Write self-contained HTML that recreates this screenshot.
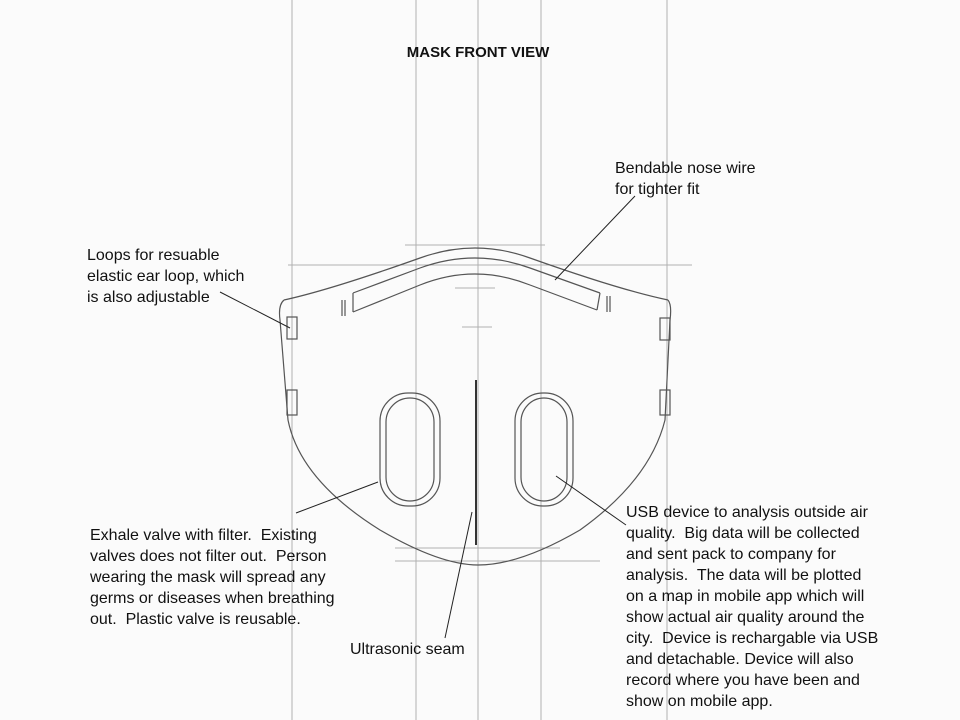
<!DOCTYPE html>
<html><head><style>
html,body{margin:0;padding:0;background:#fbfbfb;}
svg{display:block}
text{font-family:"Liberation Sans",Arial,sans-serif;font-size:16px;fill:#111;white-space:pre}
</style></head><body>
<svg width="960" height="720" viewBox="0 0 960 720">
<rect width="960" height="720" fill="#fbfbfb"/>
<g stroke="#b0b0b0" stroke-width="1" fill="none">
<line x1="292" y1="0" x2="292" y2="720"/>
<line x1="416" y1="0" x2="416" y2="720"/>
<line x1="478" y1="0" x2="478" y2="720"/>
<line x1="541" y1="0" x2="541" y2="720"/>
<line x1="667" y1="0" x2="667" y2="720"/>
<line x1="288" y1="265" x2="692" y2="265"/>
<line x1="405" y1="245" x2="545" y2="245"/>
<line x1="395" y1="548" x2="560" y2="548"/>
<line x1="395" y1="561" x2="600" y2="561"/>
<line x1="455" y1="288" x2="495" y2="288"/>
<line x1="462" y1="327" x2="492" y2="327"/>
</g>
<g stroke="#555" stroke-width="1.2" fill="none">
<path d="M284,300 Q330,290 420,258 Q475,238 530,258 Q620,290 668,300"/>
<path d="M284,300 Q278,305 280,320 L288,420 Q300,480 380,530 Q440,565 478,565 Q520,565 580,530 Q650,480 665,420 L670,320 Q672,305 668,300"/>
<path d="M353,293 L420,268 Q475,248 530,268 L600,293"/>
<path d="M353,312 L420,285 Q475,263 530,285 L597,310"/>
<line x1="353" y1="293" x2="353" y2="312"/><line x1="600" y1="293" x2="597" y2="310"/>
<path d="M345,300 v16 M342,300 v16 M607,296 v16 M610,296 v16"/>
<rect x="287" y="317" width="10" height="22"/><rect x="287" y="390" width="10" height="25"/>
<rect x="660" y="318" width="10" height="22"/><rect x="660" y="390" width="10" height="25"/>
<rect x="380" y="393" width="60" height="113" rx="28"/>
<rect x="386" y="398" width="48" height="103" rx="24"/>
<rect x="515" y="393" width="58" height="113" rx="28"/>
<rect x="521" y="398" width="46" height="103" rx="24"/>
<line x1="476" y1="380" x2="476" y2="545" stroke="#333" stroke-width="2"/>
</g>
<g stroke="#222" stroke-width="1">
<line x1="220" y1="292" x2="290" y2="328"/>
<line x1="635" y1="196" x2="555" y2="280"/>
<line x1="296" y1="513" x2="378" y2="482"/>
<line x1="445" y1="638" x2="472" y2="512"/>
<line x1="626" y1="525" x2="556" y2="476"/>
</g>
<text x="478" y="57" text-anchor="middle" style="font-weight:bold;font-size:15px">MASK FRONT VIEW</text>
<text x="615" y="173">Bendable nose wire</text>
<text x="615" y="194">for tighter fit</text>
<text x="87" y="260">Loops for resuable</text>
<text x="87" y="281">elastic ear loop, which</text>
<text x="87" y="302">is also adjustable</text>
<text x="90" y="540">Exhale valve with filter.  Existing</text>
<text x="90" y="561">valves does not filter out.  Person</text>
<text x="90" y="582">wearing the mask will spread any</text>
<text x="90" y="603">germs or diseases when breathing</text>
<text x="90" y="624">out.  Plastic valve is reusable.</text>
<text x="350" y="654">Ultrasonic seam</text>
<text x="626" y="517">USB device to analysis outside air</text>
<text x="626" y="538">quality.  Big data will be collected</text>
<text x="626" y="559">and sent pack to company for</text>
<text x="626" y="580">analysis.  The data will be plotted</text>
<text x="626" y="601">on a map in mobile app which will</text>
<text x="626" y="622">show actual air quality around the</text>
<text x="626" y="643">city.  Device is rechargable via USB</text>
<text x="626" y="664">and detachable. Device will also</text>
<text x="626" y="685">record where you have been and</text>
<text x="626" y="706">show on mobile app.</text>
</svg>
</body></html>
